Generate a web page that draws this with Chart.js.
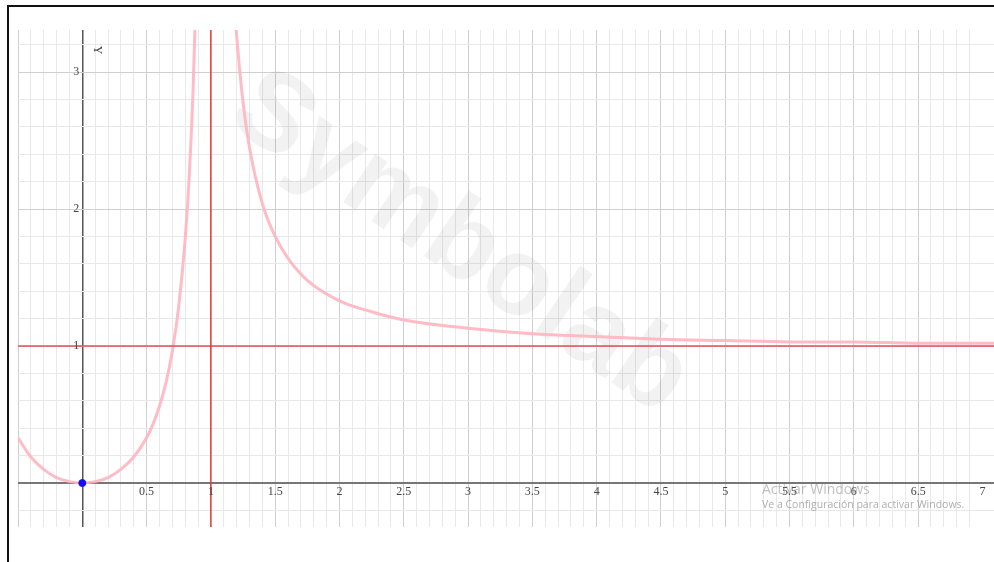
<!DOCTYPE html>
<html lang="es">
<head>
<meta charset="UTF-8">
<title>Gráfica</title>
<script src="https://cdn.jsdelivr.net/npm/chart.js"></script>
<style>
    body {
        margin: 0;
        padding: 0;
        background: #fff;
        width: 994px;
        height: 562px;
        overflow: hidden;
        font-family: 'Open Sans', sans-serif;
    }
    .wrap {
        position: absolute;
        left: 0;
        top: 0;
        width: 999px;
        height: 562px;
    }
    /* marco negro de la captura */
    .frame {
        position: absolute;
        left: 7px;
        top: 5px;
        width: 1000px;
        height: 600px;
        border-top: 2px solid #111;
        border-left: 2px solid #111;
        pointer-events: none;
    }
    .win1 {
        position: absolute;
        left: 762px;
        top: 479px;
        font-size: 14px;
        color: rgba(140, 140, 140, 0.55);
    }
    .win2 {
        position: absolute;
        left: 762px;
        top: 497px;
        font-size: 10.5px;
        color: rgba(140, 140, 140, 0.7);
    }
</style>
</head>
<body>
<div class="wrap">
    <canvas id="graph"></canvas>
</div>
<div class="frame"></div>
<div class="win1">Activar Windows</div>
<div class="win2">Ve a Configuración para activar Windows.</div>

<script>
// rama izquierda de la curva
const leftX = [-0.5, -0.4, -0.3, -0.2, -0.1, 0, 0.1, 0.2, 0.3, 0.4, 0.5, 0.55, 0.6, 0.65, 0.7, 0.75, 0.8, 0.83, 0.86, 0.88];
const leftY = [0.33, 0.19, 0.10, 0.04, 0.01, 0, 0.01, 0.04, 0.10, 0.19, 0.33, 0.43, 0.56, 0.73, 0.96, 1.29, 1.78, 2.21, 2.83, 3.44];

// rama derecha
const rightX = [1.18, 1.2, 1.25, 1.3, 1.4, 1.5, 1.6, 1.75, 2, 2.25, 2.5, 3, 3.5, 4, 4.5, 5, 5.5, 6, 6.5, 7, 7.2];
const rightY = [3.54, 3.27, 2.78, 2.45, 2.04, 1.80, 1.64, 1.48, 1.33, 1.25, 1.19, 1.13, 1.09, 1.07, 1.05, 1.04, 1.03, 1.03, 1.02, 1.02, 1.02];

// asíntotas y punto marcado
const asymX = [1];
const asymY = [1];
const pointX = [0];
const pointY = [0];

// etiquetas de los ejes
const xTickLabels = [0.5, 1, 1.5, 2, 2.5, 3, 3.5, 4, 4.5, 5, 5.5, 6, 6.5, 7];
const yTickLabels = [1, 2, 3];

const xMin = -0.5, xMax = 7.09;
const yMin = -0.321, yMax = 3.307;

function toPoints(xs, ys) {
    return xs.map((x, i) => ({ x: x, y: ys[i] }));
}

function isMultiple(v, step) {
    return Math.abs(v / step - Math.round(v / step)) < 1e-6;
}

// marca de agua, etiquetas de ejes y la "Y"
const decorPlugin = {
    id: 'decor',
    beforeDatasetsDraw(chart) {
        const ctx = chart.ctx;
        ctx.save();
        ctx.translate(460, 244);
        ctx.rotate(34 * Math.PI / 180);
        ctx.font = 'bold 110px "Liberation Sans", Arial, sans-serif';
        ctx.fillStyle = 'rgba(0, 0, 0, 0.05)';
        ctx.textAlign = 'center';
        ctx.textBaseline = 'middle';
        ctx.fillText('Symbolab', 0, 0);
        ctx.restore();
    },
    afterDatasetsDraw(chart) {
        const ctx = chart.ctx;
        const xs = chart.scales.x, ys = chart.scales.y;
        const x0 = xs.getPixelForValue(0), y0 = ys.getPixelForValue(0);
        ctx.save();
        ctx.fillStyle = '#444';
        ctx.font = '12px "Liberation Serif", serif';
        ctx.textAlign = 'center';
        ctx.textBaseline = 'top';
        xTickLabels.forEach(v => {
            ctx.fillText(String(v), xs.getPixelForValue(v), y0 + 3);
        });
        ctx.textAlign = 'right';
        ctx.textBaseline = 'middle';
        yTickLabels.forEach(v => {
            ctx.fillText(String(v), x0 - 3, ys.getPixelForValue(v));
        });
        // "Y" girada
        ctx.translate(x0 + 15, ys.getPixelForValue(3.0) - 22);
        ctx.rotate(Math.PI / 2);
        ctx.textAlign = 'center';
        ctx.font = '12px "Liberation Serif", serif';
        ctx.fillText('Y', 0, 0);
        ctx.restore();
    }
};

const ctx = document.getElementById('graph').getContext('2d');
const graph = new Chart(ctx, {
    type: 'scatter',
    data: {
        datasets: [
            {
                data: toPoints(leftX, leftY),
                showLine: true,
                borderColor: 'rgba(255, 180, 192, 0.9)',
                borderWidth: 3,
                pointRadius: 0,
                cubicInterpolationMode: 'monotone',
                order: 3
            },
            {
                data: toPoints(rightX, rightY),
                showLine: true,
                borderColor: 'rgba(255, 180, 192, 0.9)',
                borderWidth: 3,
                pointRadius: 0,
                cubicInterpolationMode: 'monotone',
                order: 3
            },
            {
                // asíntota vertical
                data: [{ x: asymX[0], y: yMin }, { x: asymX[0], y: yMax }],
                showLine: true,
                borderColor: '#e53935',
                borderWidth: 1.5,
                pointRadius: 0,
                order: 2
            },
            {
                // asíntota horizontal
                data: [{ x: xMin, y: asymY[0] }, { x: xMax, y: asymY[0] }],
                showLine: true,
                borderColor: 'rgba(225, 80, 80, 0.75)',
                borderWidth: 2,
                pointRadius: 0,
                order: 2
            },
            {
                data: toPoints(pointX, pointY),
                pointRadius: 3.5,
                pointBackgroundColor: '#1010ff',
                pointBorderColor: '#1010ff',
                order: 1
            }
        ]
    },
    options: {
        responsive: true,
        maintainAspectRatio: false,
        animation: false,
        layout: {
            padding: { left: 18, top: 30, right: 0, bottom: 35 }
        },
        plugins: {
            legend: { display: false },
            tooltip: { enabled: false }
        },
        scales: {
            x: {
                type: 'linear',
                min: xMin,
                max: xMax,
                border: { display: false },
                ticks: { display: false, stepSize: 0.1, autoSkip: false },
                grid: {
                    drawTicks: false,
                    color: c => {
                        const v = c.tick.value;
                        if (Math.abs(v) < 1e-6) return '#555';
                        if (!isMultiple(v, 0.1)) return 'rgba(0,0,0,0)';
                        return isMultiple(v, 0.5) ? '#cfcfcf' : '#e8e8e8';
                    },
                    lineWidth: c => Math.abs(c.tick.value) < 1e-6 ? 1.5 : 1
                }
            },
            y: {
                type: 'linear',
                min: yMin,
                max: yMax,
                border: { display: false },
                ticks: { display: false, stepSize: 0.2, autoSkip: false },
                grid: {
                    drawTicks: false,
                    color: c => {
                        const v = c.tick.value;
                        if (Math.abs(v) < 1e-6) return '#777';
                        if (!isMultiple(v, 0.2)) return 'rgba(0,0,0,0)';
                        return isMultiple(v, 1) ? '#cfcfcf' : '#e8e8e8';
                    },
                    lineWidth: c => Math.abs(c.tick.value) < 1e-6 ? 2 : 1
                }
            }
        }
    },
    plugins: [decorPlugin]
});
</script>
</body>
</html>
